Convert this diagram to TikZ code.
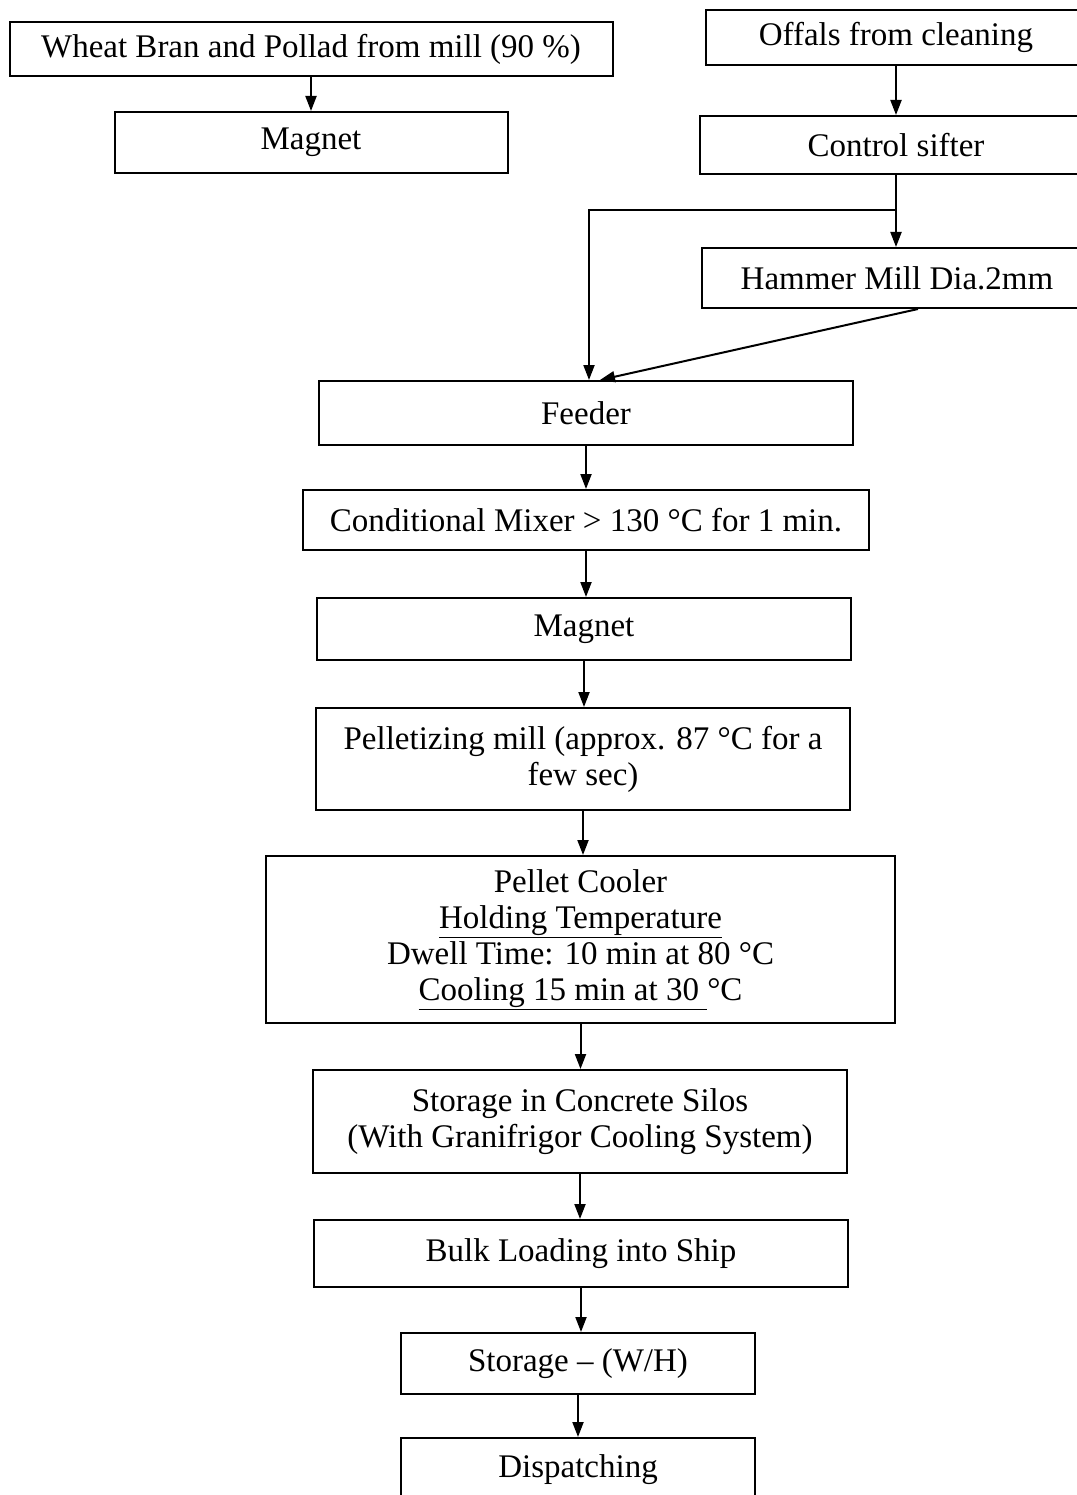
\documentclass[tikz,border=0pt]{standalone}
\usepackage{fontspec}
\setmainfont{Liberation Serif}
\usetikzlibrary{arrows.meta}

\begin{document}
\begin{tikzpicture}[x=1pt, y=-1pt,
    every node/.style={font=\fontsize{33}{36}\selectfont},
    box/.style={draw, line width=2pt, inner sep=0pt, align=center},
    flow/.style={-{Triangle[length=15pt, width=11pt]}, line width=2pt}]

    \useasboundingbox (0,0) rectangle (1076,1495);

    % bran line (left top)
    \node[box, minimum width=603, minimum height=54] (bran) at (311,49) {Wheat Bran and Pollad from mill (90~\%)};
    \node[box, minimum width=393, minimum height=61] (magnetA) at (311,142.5) {Magnet};

    % offals line (right top, boxes run past the edge)
    \node[box, minimum width=380, minimum height=55] (offals) at (896,37.5) {Offals from cleaning};
    \node[box, minimum width=392, minimum height=58] (sifter) at (896,145) {Control sifter};
    \node[box, minimum width=390, minimum height=60] (hammer) at (897,278) {Hammer Mill Dia.2mm};

    % main line
    \node[box, minimum width=534, minimum height=64] (feeder) at (586,413) {Feeder};
    \node[box, minimum width=566, minimum height=60] (mixer) at (586,520) {Conditional Mixer > 130 °C for 1 min.};
    \node[box, minimum width=534, minimum height=62] (magnetB) at (584,629) {Magnet};
    \node[box, minimum width=534, minimum height=102] (pellet) at (583,759) {Pelletizing mill (approx. 87 °C for a\\few sec)};
    \node[box, minimum width=629, minimum height=167] (cooler) at (580.5,939.5) {Pellet Cooler\\\underline{Holding Temperature}\\Dwell Time: 10 min at 80 °C\\\underline{Cooling 15 min at 30\ }°C};
    \node[box, minimum width=534, minimum height=103] (silos) at (580,1121.5) {Storage in Concrete Silos\\(With Granifrigor Cooling System)};
    \node[box, minimum width=534, minimum height=67] (bulk) at (581,1253.5) {Bulk Loading into Ship};
    \node[box, minimum width=354, minimum height=61] (whouse) at (578,1363.5) {Storage -- (W/H)};
    \node[box, minimum width=354, minimum height=64] (dispatch) at (578,1470) {Dispatching};

    % arrows
    \draw[flow] (bran) -- (bran |- magnetA.north);
    \draw[flow] (offals) -- (offals |- sifter.north);
    \draw[flow] (sifter) -- (sifter |- hammer.north);
    \path (sifter.south) ++(0,35) coordinate (split);
    \draw[flow] (split) -| ([xshift=3]feeder.north);
    \draw[flow] ([xshift=21]hammer.south) -- ([xshift=14]feeder.north);

    \draw[flow] (feeder) -- (feeder |- mixer.north);
    \draw[flow] (mixer) -- (mixer |- magnetB.north);
    \draw[flow] (magnetB) -- (magnetB |- pellet.north);
    \draw[flow] (pellet) -- (pellet |- cooler.north);
    \draw[flow] (cooler) -- (cooler |- silos.north);
    \draw[flow] (silos) -- (silos |- bulk.north);
    \draw[flow] (bulk) -- (bulk |- whouse.north);
    \draw[flow] (whouse) -- (whouse |- dispatch.north);

\end{tikzpicture}
\end{document}
